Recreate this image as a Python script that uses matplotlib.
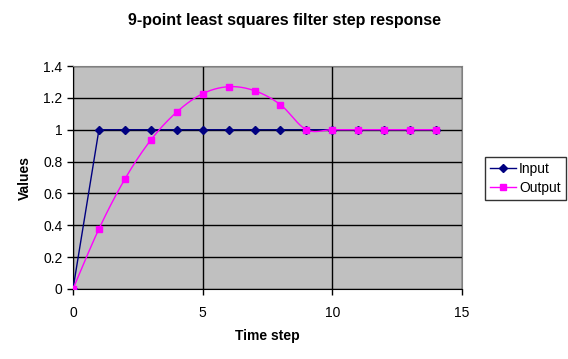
import numpy as np
import matplotlib.pyplot as plt

plt.rcParams['font.family'] = ['Liberation Sans', 'DejaVu Sans']

steps = list(range(15))
input_vals = [0, 1, 1, 1, 1, 1, 1, 1, 1, 1, 1, 1, 1, 1, 1]
output_vals = [0, 0.377, 0.69, 0.935, 1.111, 1.226, 1.27, 1.245, 1.157, 1.0, 1.0, 1.0, 1.0, 1.0, 1.0]


def smooth(x, y, n=20):
    # Catmull-Rom style smoothing like the spreadsheet "smoothed line"
    x = np.asarray(x, float); y = np.asarray(y, float)
    px = np.concatenate([[x[0]], x, [x[-1]]])
    py = np.concatenate([[y[0]], y, [y[-1]]])
    xs, ys = [], []
    t = np.linspace(0, 1, n, endpoint=False)
    for i in range(1, len(px) - 2):
        p0, p1, p2, p3 = [np.array([px[j], py[j]]) for j in (i-1, i, i+1, i+2)]
        c1 = p1 + (p2 - p0) / 6
        c2 = p2 - (p3 - p1) / 6
        b = ((1-t)**3)[:, None]*p1 + (3*(1-t)**2*t)[:, None]*c1 + (3*(1-t)*t**2)[:, None]*c2 + (t**3)[:, None]*p2
        xs.extend(b[:, 0]); ys.extend(b[:, 1])
    xs.append(x[-1]); ys.append(y[-1])
    return xs, ys


fig = plt.figure(figsize=(5.68, 3.59), dpi=100)
ax = fig.add_axes([73/568, 1-289/359, (462-73)/568, (289-66)/359])
ax.set_facecolor('#c0c0c0')

ax.plot(steps, input_vals, color='#000080', lw=1, marker='D', ms=4.2, label='Input', zorder=3)
sx, sy = smooth(steps, output_vals)
ax.plot(sx, sy, color='#ff00ff', lw=1, zorder=4)
ax.plot(steps, output_vals, ls='none', color='#ff00ff', marker='s', ms=5, zorder=5)
ax.plot([], [], color='#ff00ff', lw=1, marker='s', ms=5, label='Output')

ax.set_xlim(0, 15)
ax.set_ylim(0, 1.4)
ax.set_xticks([0, 5, 10, 15])
ax.set_yticks(np.arange(0, 1.41, 0.2))
ax.set_yticklabels(['0', '0.2', '0.4', '0.6', '0.8', '1', '1.2', '1.4'])
ax.grid(True, color='black', lw=1)
ax.set_axisbelow(True)
ax.tick_params(direction='out', length=4, width=1, labelsize=10, color='black')
ax.tick_params(axis='x', pad=8)
for s in ('top', 'right'):
    ax.spines[s].set_color('#808080')
for s in ('left', 'bottom'):
    ax.spines[s].set_color('black')

ax.set_xlabel('Time step', fontsize=10, fontweight='bold', labelpad=7)
ax.set_ylabel('Values', fontsize=10, fontweight='bold', labelpad=8)
fig.text(284/568, 1 - 21/359, '9-point least squares filter step response',
         ha='center', va='center', fontsize=11.5, fontweight='bold')

leg = fig.legend(loc='upper left', bbox_to_anchor=(485/568, 1 - 157/359), fontsize=10,
                 frameon=True, fancybox=False, edgecolor='black', handlelength=1.9,
                 borderpad=0.35, labelspacing=0.35, handletextpad=0.2, borderaxespad=0)
leg.get_frame().set_linewidth(1)

fig.savefig('out.png', dpi=100)
